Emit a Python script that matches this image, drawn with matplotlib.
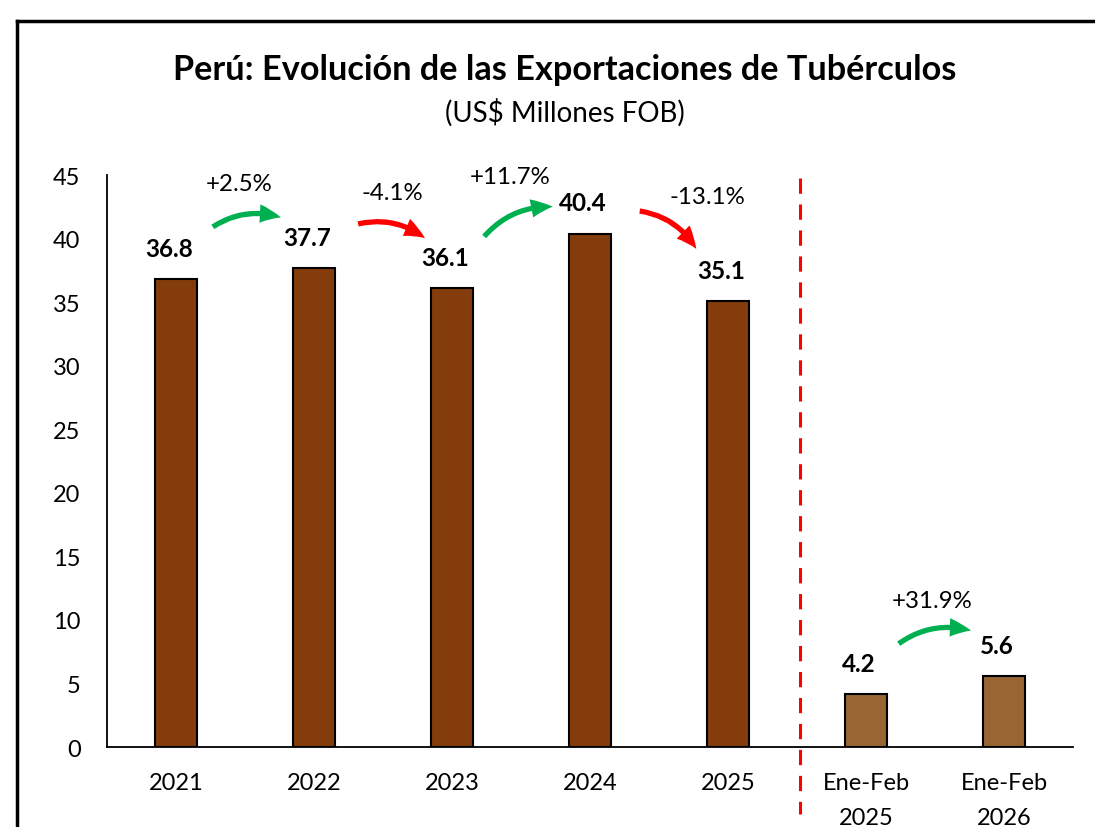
import matplotlib.pyplot as plt
from matplotlib.patches import FancyArrowPatch
from matplotlib.lines import Line2D

plt.rcParams['font.family'] = ['Lato', 'DejaVu Sans']

# Data
categories = ['2021', '2022', '2023', '2024', '2025', 'Ene-Feb\n2025', 'Ene-Feb\n2026']
values = [36.8, 37.7, 36.1, 40.4, 35.1, 4.2, 5.6]
bar_colors = ['#843C0C'] * 5 + ['#996633'] * 2

# growth annotations: (from index, to index, label)
changes = [(0, 1, '+2.5%'), (1, 2, '-4.1%'), (2, 3, '+11.7%'),
           (3, 4, '-13.1%'), (5, 6, '+31.9%')]

green = '#00B050'
red = '#FF0000'

fig = plt.figure(figsize=(10.95, 8.28), dpi=100)
ax = fig.add_axes([0.0977, 0.0966, 0.8823, 0.6908])

x = range(len(categories))
ax.bar(x, values, width=0.30, color=bar_colors, edgecolor='black', linewidth=1.5, zorder=2)

ax.set_xlim(-0.5, 6.5)
ax.set_ylim(0, 45)
ax.set_yticks(range(0, 46, 5))
ax.set_xticks(list(x))
ax.set_xticklabels(categories, linespacing=1.8)
ax.tick_params(axis='both', length=0, labelsize=17)
ax.tick_params(axis='x', pad=18)
ax.tick_params(axis='y', pad=19)
for s in ['top', 'right']:
    ax.spines[s].set_visible(False)
for s in ['left', 'bottom']:
    ax.spines[s].set_linewidth(1.3)

# value labels
for i, v in enumerate(values):
    ax.text(i - 0.05, v + 1.5, f'{v:.1f}', ha='center', va='bottom',
            fontsize=17.5, fontweight='bold')

# arrow start, end and label position for each change
arrow_pos = {
    0: ((0.25, 40.8), (0.78, 41.6), (0.46, 44.3)),
    1: ((1.30, 41.1), (1.82, 39.9), (1.57, 43.6)),
    2: ((2.22, 40.0), (2.75, 42.5), (2.42, 44.9)),
    3: ((3.34, 42.2), (3.78, 39.0), (3.85, 43.3)),
    4: ((5.22, 8.0), (5.78, 9.1), (5.48, 11.5)),
}
for k, (a, b, lab) in enumerate(changes):
    start, end, tpos = arrow_pos[k]
    col = green if values[b] > values[a] else red
    arr = FancyArrowPatch(start, end, connectionstyle='arc3,rad=-0.25',
                          arrowstyle='simple,head_length=1.1,head_width=0.95,tail_width=0.27',
                          mutation_scale=14, color=col, lw=0, clip_on=False, zorder=3)
    ax.add_patch(arr)
    ax.text(tpos[0], tpos[1], lab, ha='center', va='center', fontsize=17.3)

# separator
ax.plot([4.52, 4.52], [44.8, -5.3], color=red, lw=2.2, dashes=(5, 3.5),
        clip_on=False, zorder=1)

fig.text(0.516, 0.915, 'Perú: Evolución de las Exportaciones de Tubérculos',
         ha='center', va='center', fontsize=24.7, fontweight='bold')
fig.text(0.516, 0.8635, '(US$ Millones FOB)', ha='center', va='center', fontsize=20)

# outer frame
fig.add_artist(Line2D([0.0158, 0.0158], [0, 0.9734], color='black', lw=2.5))
fig.add_artist(Line2D([0.0158, 1.0], [0.9734, 0.9734], color='black', lw=2.5))

fig.savefig('out.png', dpi=100)
